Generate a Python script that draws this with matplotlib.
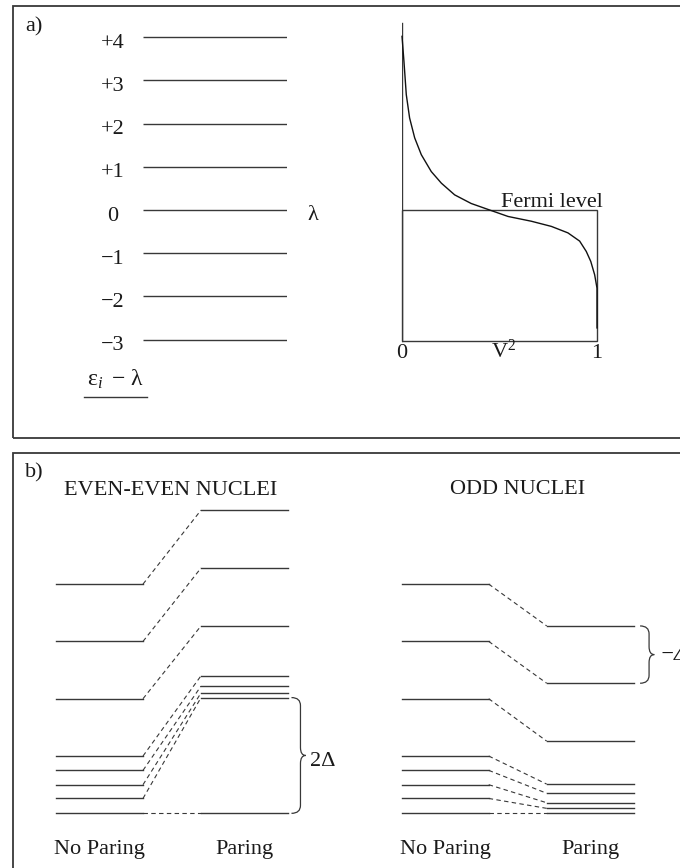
"""
Pairing schematic: occupation of single-particle levels around the Fermi
level (a) and level schemes of even-even and odd nuclei (b)
"""
#%% ------------------------------- ###
###           0. Imports            ###
### ------------------------------- ###

import matplotlib.pyplot as plt
from matplotlib.patches import Rectangle, PathPatch
from matplotlib.path import Path

plt.rcParams['font.family'] = 'Liberation Serif'
plt.rcParams['font.size'] = 16
plt.rcParams['mathtext.fontset'] = 'custom'
plt.rcParams['mathtext.rm'] = 'Liberation Serif'
plt.rcParams['mathtext.it'] = 'Liberation Serif:italic'

#%% ------------------------------- ###
###             1. Data             ###
### ------------------------------- ###

# a) single-particle levels relative to the Fermi level
level_energies = [4, 3, 2, 1, 0, -1, -2, -3]
level_labels = ['+4', '+3', '+2', '+1', '0', '−1', '−2', '−3']

# occupation probability V^2 against level energy
v2_occupation = [0.000, 0.010, 0.022, 0.039, 0.065, 0.099, 0.150, 0.202, 0.270,
                 0.355, 0.443, 0.544, 0.663, 0.766, 0.851, 0.911, 0.945, 0.968,
                 0.988, 1.000, 1.000]
v2_energy = [4.02, 3.44, 2.67, 2.13, 1.67, 1.28, 0.89, 0.62, 0.35,
             0.15, 0.01, -0.15, -0.26, -0.38, -0.53, -0.72, -0.96, -1.19,
             -1.50, -1.81, -2.73]
v2_ticks = [0, 0.52, 1.0]
v2_ticklabels = ['0', 'V$^{2}$', '1']
fermi_level = 0.0
v2_axis_top = 4.33
v2_axis_bottom = -3.03

# b) level schemes without and with pairing
no_pairing = [4.0, 3.0, 2.0, 1.0, 0.75, 0.50, 0.26, 0.0]
even_pairing = [5.29, 4.28, 3.27, 2.40, 2.22, 2.10, 2.02, 0.0]
odd_pairing = [3.27, 2.27, 1.26, 0.51, 0.35, 0.185, 0.087, 0.0]

#%% ------------------------------- ###
###            2. Utils             ###
### ------------------------------- ###

W, H = 680, 868
LC = '#383838'   # line colour
TC = '#1a1a1a'   # text colour
LW = 1.0

fig = plt.figure(figsize=(W / 100, H / 100), dpi=100)


def px_axes(left, top, width, height):
    """Axes placed in pixel units measured from the top-left corner"""
    ax = fig.add_axes([left / W, 1 - (top + height) / H, width / W, height / H])
    ax.set_axis_off()
    return ax


def fig_text(x, y, s, **kw):
    fig.text(x / W, 1 - y / H, s, color=TC, **kw)


def brace(ax, x, y0, y1, w=0.155, tip=0.09, r=0.14):
    """Right-pointing curly brace between y0 and y1"""
    ym = (y0 + y1) / 2
    verts = [(x, y1), (x + w, y1), (x + w, y1 - r),
             (x + w, ym + r),
             (x + w, ym), (x + w + tip, ym),
             (x + w, ym), (x + w, ym - r),
             (x + w, y0 + r),
             (x + w, y0), (x, y0)]
    codes = [Path.MOVETO, Path.CURVE3, Path.CURVE3,
             Path.LINETO,
             Path.CURVE3, Path.CURVE3,
             Path.CURVE3, Path.CURVE3,
             Path.LINETO,
             Path.CURVE3, Path.CURVE3]
    ax.add_patch(PathPatch(Path(verts, codes), fill=False, ec=LC, lw=0.9,
                           clip_on=False))


def level_scheme(ax, before, after):
    """Levels before (left) and after (right) pairing, joined by dashes"""
    for e0, e1 in zip(before, after):
        ax.plot([0, 1.5], [e0, e0], color=LC, lw=LW, clip_on=False)
        ax.plot([2.5, 4.0], [e1, e1], color=LC, lw=LW, clip_on=False)
        ax.plot([1.5, 2.5], [e0, e1], color=LC, lw=0.8, ls=(0, (4, 3)),
                clip_on=False)
    ax.set_xlim(0, 4)
    ax.set_ylim(-0.5, 5.6)
    ax.text(0.75, -0.71, 'No Paring', ha='center', va='baseline', color=TC)
    ax.text(3.25, -0.71, 'Paring', ha='center', va='baseline', color=TC)


# panel frames (right and bottom edges run off the page)
fig.add_artist(Rectangle((13 / W, 1 - 438 / H), 2, 432 / H, fill=False,
                         ec=LC, lw=1.3, transform=fig.transFigure))
fig.add_artist(Rectangle((13 / W, -0.1), 2, 415 / H + 0.1, fill=False,
                         ec=LC, lw=1.3, transform=fig.transFigure))

#%% ------------------------------- ###
###        3. Panel a: levels       ###
### ------------------------------- ###

fig_text(25, 31, 'a)', ha='left', va='baseline')

ax_lev = px_axes(143, 15.6, 144, 393.1)
ax_lev.set_xlim(0, 1)
ax_lev.set_ylim(-4.6, 4.5)
ax_lev.hlines(level_energies, 0, 1, color=LC, lw=LW)
for e, lab in zip(level_energies, level_labels):
    ax_lev.text(-0.208, e - 0.245, lab, ha='center', va='baseline', color=TC)
ax_lev.text(1.18, fermi_level - 0.23, 'λ', ha='center', va='baseline', color=TC)
ax_lev.text(-0.19, -4.07, '$\\mathrm{ε}_{i}\\,\\,-\\,\\mathrm{λ}$',
            ha='center', va='baseline', color=TC, fontsize=17)
ax_lev.plot([-0.41, 0.03], [-4.32, -4.32], color=LC, lw=LW, clip_on=False)

# occupation probability
ax_v2 = px_axes(402, 15.6, 195, 393.1)
ax_v2.set_xlim(0, 1)
ax_v2.set_ylim(-4.6, 4.5)
ax_v2.plot([0, 0], [v2_axis_bottom, v2_axis_top], color=LC, lw=LW)
ax_v2.add_patch(Rectangle((0, v2_axis_bottom), 1, fermi_level - v2_axis_bottom,
                          fill=False, ec=LC, lw=LW, clip_on=False))
ax_v2.plot(v2_occupation, v2_energy, color='#111111', lw=1.0,
           solid_joinstyle='round', clip_on=False)
ax_v2.text(0.51, fermi_level + 0.06, 'Fermi level', ha='left', va='baseline', color=TC)
for x, lab in zip(v2_ticks, v2_ticklabels):
    ax_v2.text(x, -3.43, lab, ha='center', va='baseline', color=TC)

#%% ------------------------------- ###
###     4. Panel b: level schemes   ###
### ------------------------------- ###

fig_text(25, 477, 'b)', ha='left', va='baseline')

ax_even = px_axes(56, 492.4, 232, 349.6)
level_scheme(ax_even, no_pairing, even_pairing)
ax_even.text(1.98, 5.56, 'EVEN-EVEN NUCLEI', ha='center', va='baseline', color=TC)
brace(ax_even, 4.06, even_pairing[-1], even_pairing[-2])
ax_even.text(4.38, 0.83, '2Δ', ha='left', va='baseline', color=TC)

ax_odd = px_axes(401.7, 492.4, 232, 349.6)
level_scheme(ax_odd, no_pairing, odd_pairing)
ax_odd.text(1.99, 5.57, 'ODD NUCLEI', ha='center', va='baseline', color=TC)
brace(ax_odd, 4.11, odd_pairing[1], odd_pairing[0])
ax_odd.text(4.45, 2.67, '−Δ', ha='left', va='baseline', color=TC,
            style='italic')

fig.savefig('out.png', dpi=100)
